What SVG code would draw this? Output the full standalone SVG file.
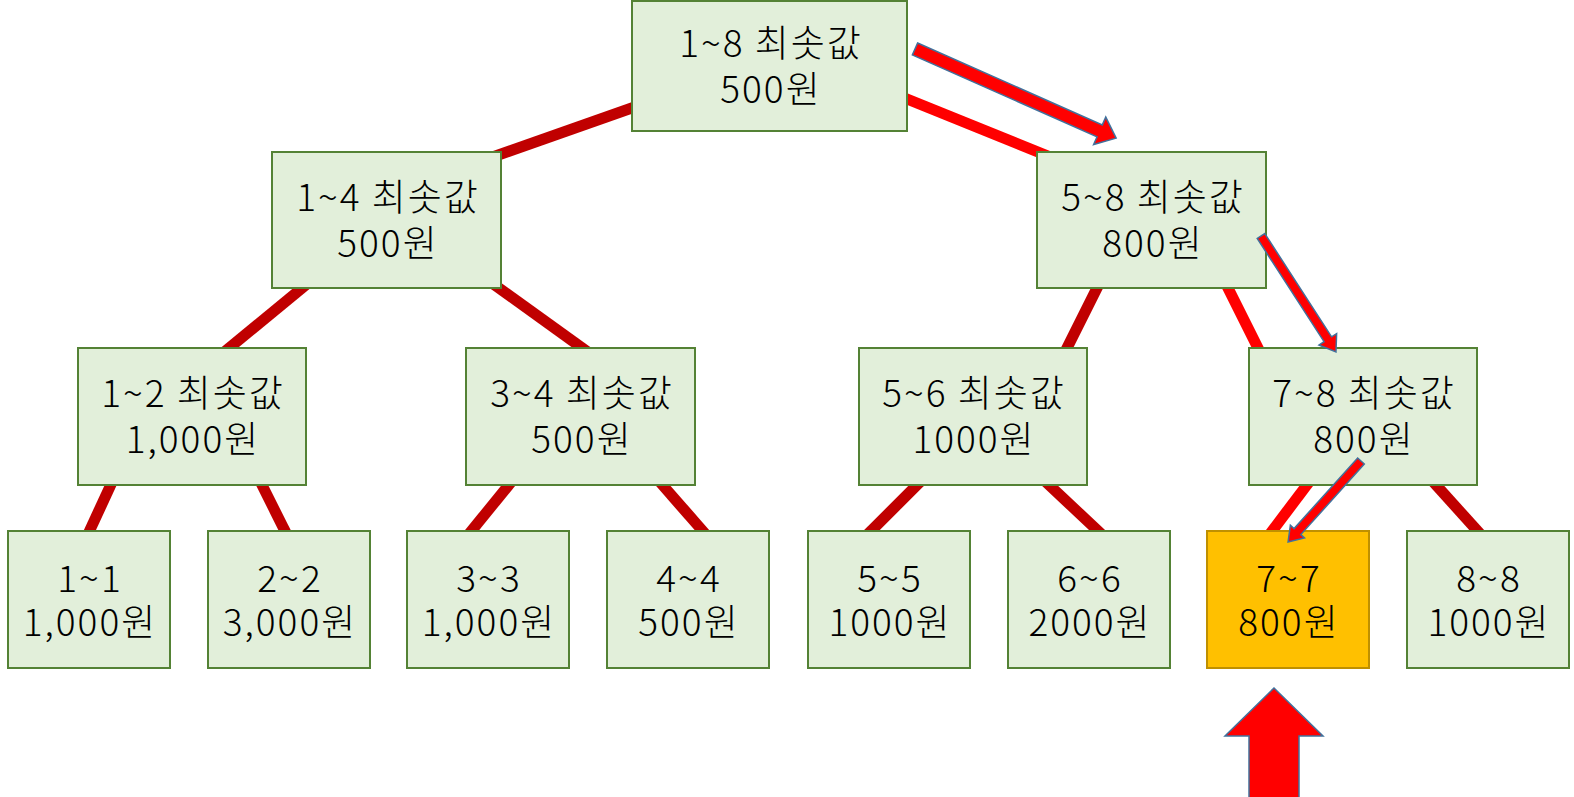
<svg xmlns="http://www.w3.org/2000/svg" width="1574" height="797" viewBox="0 0 1574 797">
<style>
.n{fill:#E2EFDA;stroke:#548235;stroke-width:2}
.hl{fill:#FFC000;stroke:#BF9000;stroke-width:2}
.t{font-family:"Noto Sans CJK KR","Noto Sans",sans-serif;font-size:37px;font-weight:300;letter-spacing:2px;fill:#000;text-anchor:middle}
.dk{stroke:#C00000;stroke-width:11;fill:none}
.br{stroke:#FF0000;stroke-width:11;fill:none}
.ar{fill:#FF0000;stroke:#41719C;stroke-width:1.5}
</style>
<rect width="1574" height="797" fill="#fff"/>
<g id="connectors">
<line class="dk" x1="680" y1="91" x2="450" y2="172"/>
<line class="br" x1="860" y1="80" x2="1090" y2="173"/>
<line class="dk" x1="330" y1="265" x2="200" y2="372"/>
<line class="dk" x1="460" y1="260" x2="610" y2="368"/>
<line class="dk" x1="1110" y1="262" x2="1055" y2="372"/>
<line class="br" x1="1215" y1="262" x2="1270" y2="372"/>
<line class="dk" x1="120" y1="465" x2="83" y2="545"/>
<line class="dk" x1="252" y1="465" x2="292" y2="545"/>
<line class="dk" x1="525" y1="465" x2="460" y2="545"/>
<line class="dk" x1="645" y1="465" x2="715" y2="545"/>
<line class="dk" x1="935" y1="467" x2="857" y2="545"/>
<line class="dk" x1="1030" y1="467" x2="1113" y2="545"/>
<line class="br" x1="1322" y1="465" x2="1260" y2="547"/>
<line class="dk" x1="1418" y1="465" x2="1492" y2="547"/>
</g>
<g id="n18"><rect class="n" x="632" y="1" width="275" height="130"/><text class="t" x="771" y="57">1~8 최솟값</text><text class="t" x="771" y="103">500원</text></g>
<g id="n14"><rect class="n" x="272" y="152" width="229" height="136"/><text class="t" x="388" y="211">1~4 최솟값</text><text class="t" x="388" y="257">500원</text></g>
<g id="n58"><rect class="n" x="1037" y="152" width="229" height="136"/><text class="t" x="1153" y="211">5~8 최솟값</text><text class="t" x="1153" y="257">800원</text></g>
<g id="n12"><rect class="n" x="78" y="348" width="228" height="137"/><text class="t" x="193" y="407">1~2 최솟값</text><text class="t" x="193" y="453">1,000원</text></g>
<g id="n34"><rect class="n" x="466" y="348" width="229" height="137"/><text class="t" x="582" y="407">3~4 최솟값</text><text class="t" x="582" y="453">500원</text></g>
<g id="n56"><rect class="n" x="859" y="348" width="228" height="137"/><text class="t" x="974" y="407">5~6 최솟값</text><text class="t" x="974" y="453">1000원</text></g>
<g id="n78"><rect class="n" x="1249" y="348" width="228" height="137"/><text class="t" x="1364" y="407">7~8 최솟값</text><text class="t" x="1364" y="453">800원</text></g>
<g id="n11"><rect class="n" x="8" y="531" width="162" height="137"/><text class="t" x="90" y="592">1~1</text><text class="t" x="90" y="636">1,000원</text></g>
<g id="n22"><rect class="n" x="208" y="531" width="162" height="137"/><text class="t" x="290" y="592">2~2</text><text class="t" x="290" y="636">3,000원</text></g>
<g id="n33"><rect class="n" x="407" y="531" width="162" height="137"/><text class="t" x="489" y="592">3~3</text><text class="t" x="489" y="636">1,000원</text></g>
<g id="n44"><rect class="n" x="607" y="531" width="162" height="137"/><text class="t" x="689" y="592">4~4</text><text class="t" x="689" y="636">500원</text></g>
<g id="n55"><rect class="n" x="808" y="531" width="162" height="137"/><text class="t" x="890" y="592">5~5</text><text class="t" x="890" y="636">1000원</text></g>
<g id="n66"><rect class="n" x="1008" y="531" width="162" height="137"/><text class="t" x="1090" y="592">6~6</text><text class="t" x="1090" y="636">2000원</text></g>
<g id="n77"><rect class="hl" x="1207" y="531" width="162" height="137"/><text class="t" x="1289" y="592">7~7</text><text class="t" x="1289" y="636">800원</text></g>
<g id="n88"><rect class="n" x="1407" y="531" width="162" height="137"/><text class="t" x="1489" y="592">8~8</text><text class="t" x="1489" y="636">1000원</text></g>
<g id="arrows">
<polygon class="ar" transform="translate(915,49) rotate(23.9)" points="0,-6.5 202,-6.5 202,-15 220,0 202,15 202,6.5 0,6.5"/>
<polygon class="ar" transform="translate(1261,236) rotate(57.1)" points="0,-4.5 123,-4.5 123,-10.5 138,0 123,10.5 123,4.5 0,4.5"/>
<polygon class="ar" transform="translate(1361,461) rotate(132)" points="0,-4.5 95,-4.5 95,-9.5 109,0 95,9.5 95,4.5 0,4.5"/>
<polygon class="ar" points="1274,688 1323,736 1299,736 1299,800 1249,800 1249,736 1225,736"/>
</g>
</svg>
